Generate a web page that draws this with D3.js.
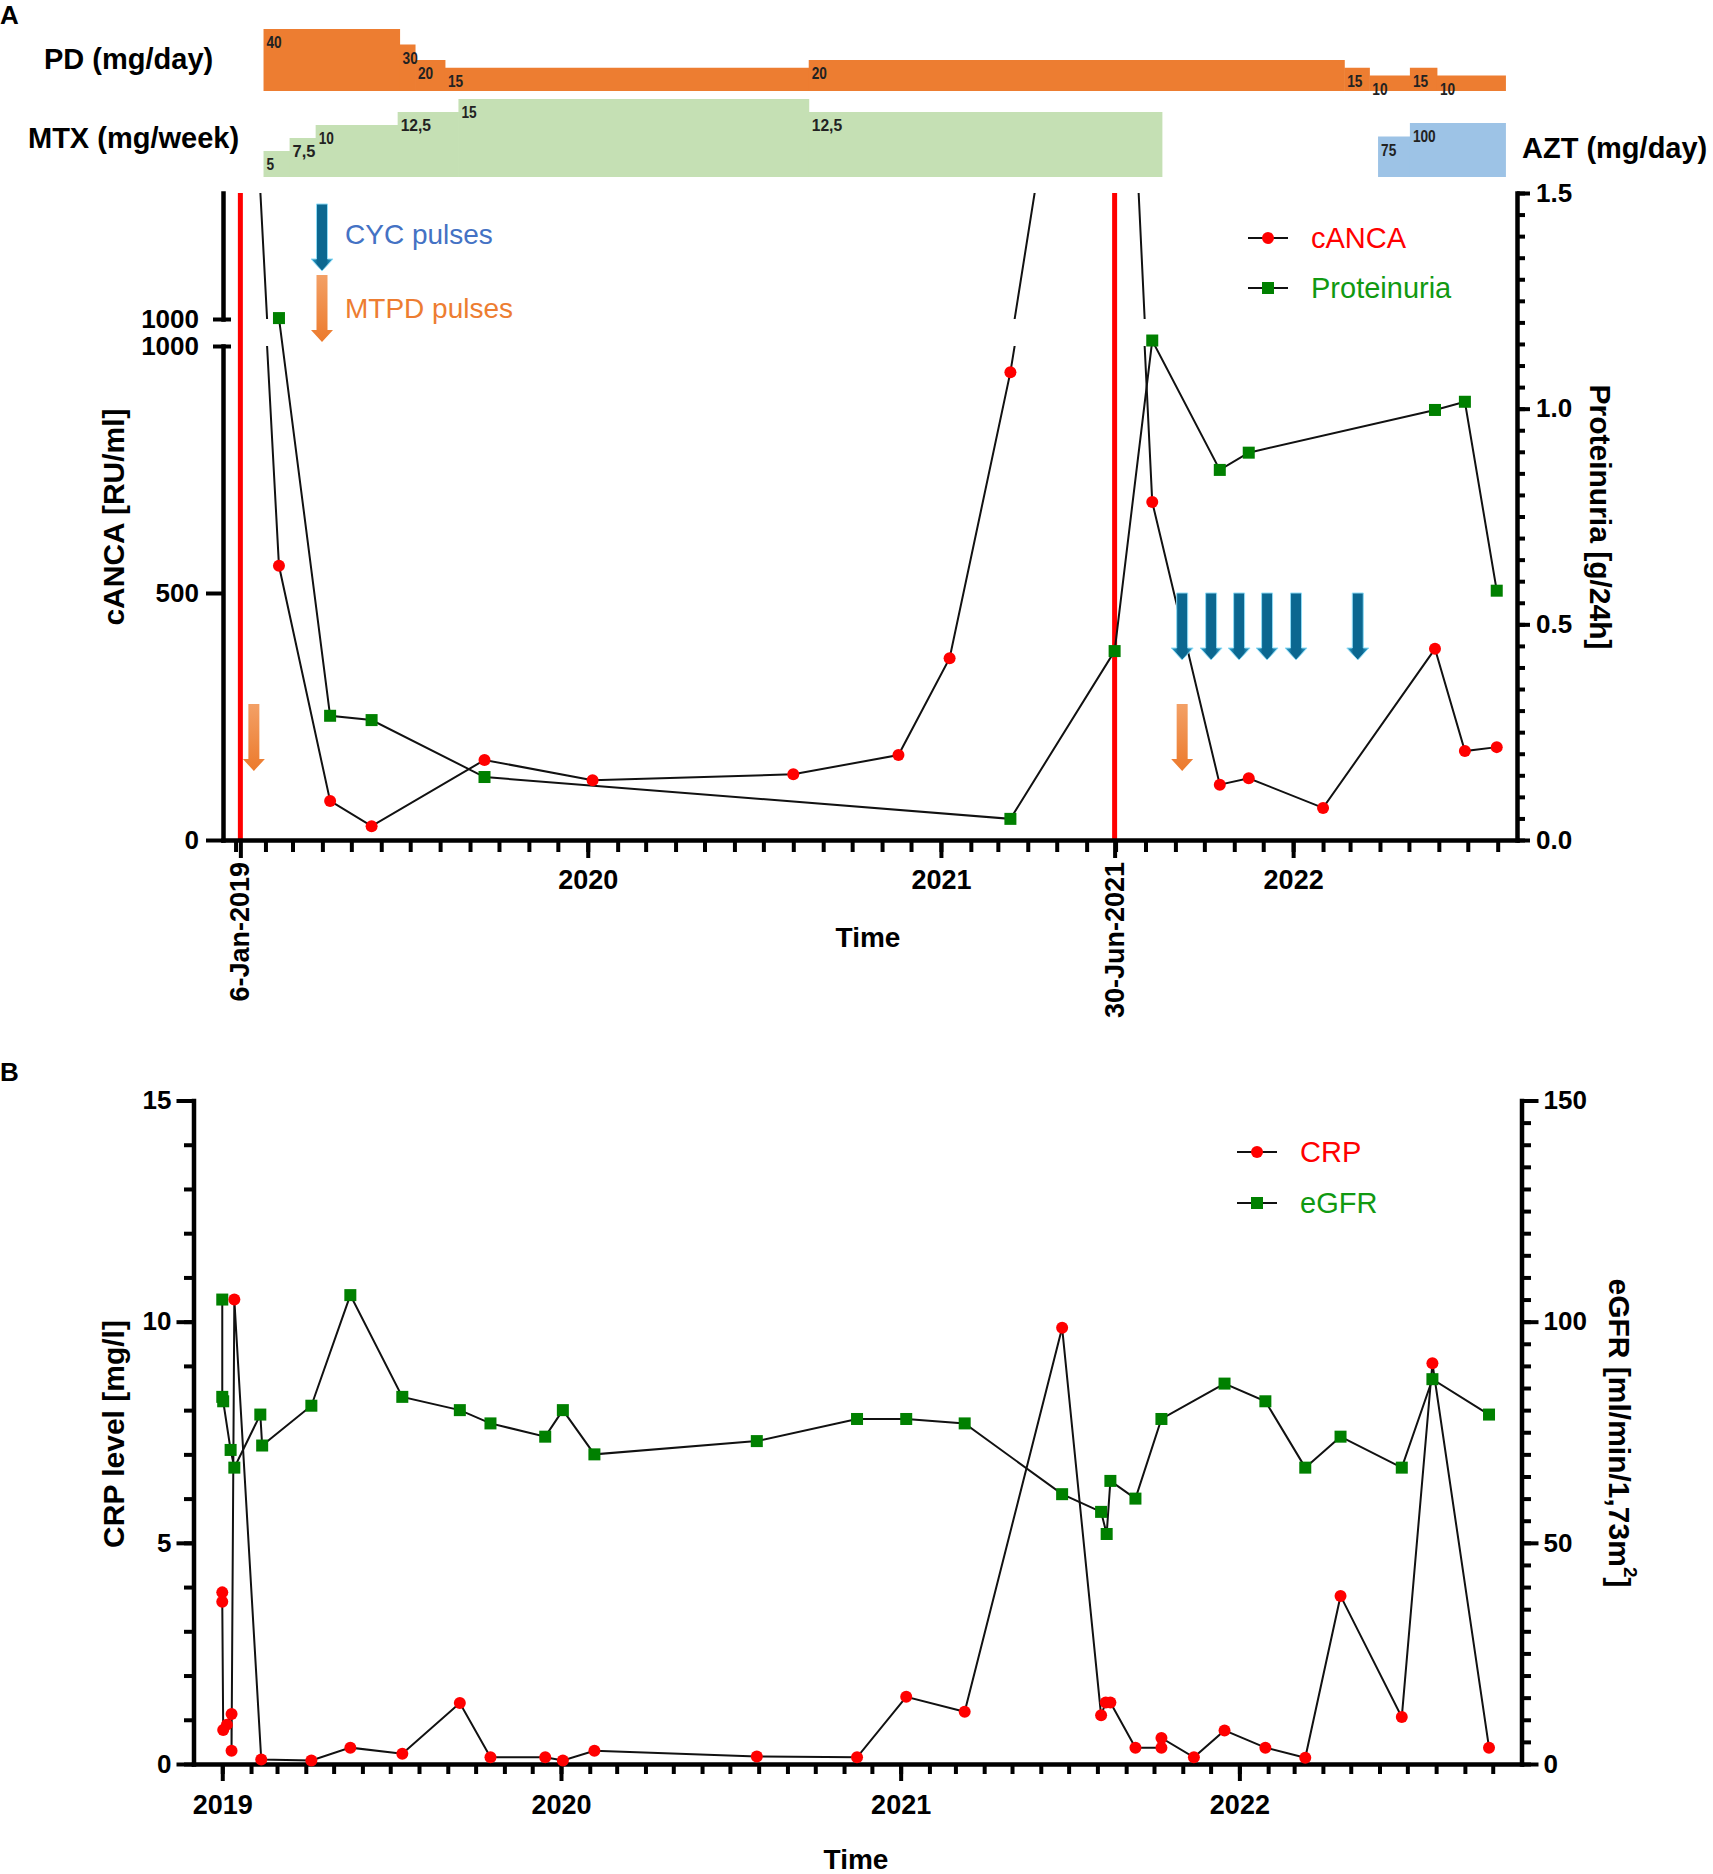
<!DOCTYPE html>
<html>
<head>
<meta charset="utf-8">
<title>cANCA, proteinuria, CRP and eGFR over time</title>
<script src="https://cdn.jsdelivr.net/npm/d3@7"></script>
<style>
body { margin: 0; background: #fff; }
svg { display: block; font-family: "Liberation Sans", Arial, sans-serif; }
</style>
</head>
<body>
<script>
// ---------- data: treatment bars ----------
const pdStarts = ["2019-01-30", "2019-06-20", "2019-07-06", "2019-08-06", "2020-08-17", "2022-02-23", "2022-03-21", "2022-05-02", "2022-05-30"];
const pdDoses = [40, 30, 20, 15, 20, 15, 10, 15, 10];
const pdEnd = "2022-08-09";

const mtxStarts = ["2019-01-30", "2019-02-26", "2019-03-25", "2019-06-18", "2019-08-20", "2020-08-17"];
const mtxDoses = [5, 7.5, 10, 12.5, 15, 12.5];
const mtxEnd = "2021-08-18";

const aztStarts = ["2022-03-30", "2022-05-02"];
const aztDoses = [75, 100];
const aztEnd = "2022-08-09";

// ---------- data: panel A ----------
const cancaDates = ["2019-01-06", "2019-02-15", "2019-04-09", "2019-05-22", "2019-09-16", "2020-01-06", "2020-08-01", "2020-11-18",
  "2021-01-10", "2021-03-14", "2021-06-30", "2021-08-08", "2021-10-17", "2021-11-16", "2022-02-01", "2022-05-28", "2022-06-28", "2022-07-31"];
const cancaValues = [2000, 555, 79, 28, 162, 121, 133, 172, 368, 947, 2250, 684, 112, 125, 65, 387, 180, 188];

const protDates = ["2019-02-15", "2019-04-09", "2019-05-22", "2019-09-16", "2021-03-14", "2021-06-30", "2021-08-08", "2021-10-17",
  "2021-11-16", "2022-05-28", "2022-06-28", "2022-07-31"];
const protValues = [1.21, 0.288, 0.278, 0.146, 0.049, 0.438, 1.158, 0.858, 0.898, 0.997, 1.016, 0.578];

const cycPulseDates = ["2021-09-08", "2021-10-08", "2021-11-06", "2021-12-05", "2022-01-04", "2022-03-09"];
const mtpdPulseDates = ["2019-01-20", "2021-09-08"];

const eventDates = ["2019-01-06", "2021-06-30"];
const eventLabels = ["6-Jan-2019", "30-Jun-2021"];

const yearTicksA = [2020, 2021, 2022];
const leftTicksA = [0, 500, 1000];
const rightTicksA = [0, 0.5, 1.0, 1.5];

// ---------- data: panel B ----------
const crpDates = ["2019-01-01", "2019-01-01", "2019-01-02", "2019-01-06", "2019-01-11", "2019-01-11", "2019-01-14", "2019-02-12",
  "2019-04-07", "2019-05-19", "2019-07-14", "2019-09-14", "2019-10-17", "2019-12-15", "2020-01-03", "2020-02-06",
  "2020-07-30", "2020-11-15", "2021-01-07", "2021-03-11", "2021-06-24", "2021-08-05", "2021-08-10", "2021-08-15",
  "2021-09-11", "2021-10-09", "2021-10-09", "2021-11-13", "2021-12-16", "2022-01-29", "2022-03-13", "2022-04-20",
  "2022-06-25", "2022-07-28", "2022-09-27"];
const crpValues = [3.88, 3.67, 0.77, 0.89, 1.13, 0.30, 10.5, 0.10, 0.08, 0.37, 0.23, 1.38, 0.15, 0.15, 0.08, 0.30,
  0.17, 0.15, 1.52, 1.18, 9.86, 1.10, 1.39, 1.39, 0.37, 0.37, 0.59, 0.15, 0.76, 0.37, 0.14, 3.80, 1.06, 9.06, 0.37];

const egfrDates = ["2019-01-01", "2019-01-01", "2019-01-02", "2019-01-10", "2019-01-14", "2019-02-11", "2019-02-13", "2019-04-07",
  "2019-05-19", "2019-07-14", "2019-09-14", "2019-10-17", "2019-12-15", "2020-01-03", "2020-02-06", "2020-07-30",
  "2020-11-15", "2021-01-07", "2021-03-11", "2021-06-24", "2021-08-05", "2021-08-11", "2021-08-15", "2021-09-11",
  "2021-10-09", "2021-12-16", "2022-01-29", "2022-03-13", "2022-04-20", "2022-06-25", "2022-07-28", "2022-09-27"];
const egfrValues = [105, 83, 82, 71, 67, 79, 72, 81, 106, 83, 80, 77, 74, 80, 70, 73, 78, 78, 77, 61, 57, 52, 64, 60,
  78, 86, 82, 67, 74, 67, 87, 79];

const yearTicksB = [2019, 2020, 2021, 2022];
const leftTicksB = [0, 5, 10, 15];
const rightTicksB = [0, 50, 100, 150];

// ---------- setup ----------
const parse = d3.timeParse("%Y-%m-%d");
const W = 1713, H = 1874;
const RED = "#ff0000", GREEN = "#008000", TEXTGREEN = "#119911";
const svg = d3.select("body").append("svg").attr("width", W).attr("height", H);
const defs = svg.append("defs");

const cycGrad = defs.append("linearGradient").attr("id", "cycFill")
  .attr("x1", 0).attr("x2", 1).attr("y1", 0).attr("y2", 0);
cycGrad.selectAll("stop").data([["0%", "#38aedc"], ["30%", "#0b6790"], ["70%", "#0b6790"], ["100%", "#38aedc"]])
  .join("stop").attr("offset", d => d[0]).attr("stop-color", d => d[1]);
const orGrad = defs.append("linearGradient").attr("id", "mtpdFill")
  .attr("x1", 0).attr("x2", 0).attr("y1", 0).attr("y2", 1);
orGrad.selectAll("stop").data([["0%", "#f3a066"], ["100%", "#ec7a2c"]])
  .join("stop").attr("offset", d => d[0]).attr("stop-color", d => d[1]);

function styleAxis(g, fontSize) {
  g.attr("font-family", null).attr("font-size", null);
  g.select(".domain").attr("stroke-width", 4.5).attr("stroke-linecap", "square");
  g.selectAll(".tick line").attr("stroke-width", 4);
  g.selectAll(".tick text").attr("font-size", fontSize).attr("font-weight", "bold").attr("fill", "#000");
}
function noDomain(g) { g.select(".domain").remove(); }

function arrowPath(cx, top) {
  return `M${cx - 5.5},${top}H${cx + 5.5}V${top + 55}H${cx + 11}L${cx},${top + 67}L${cx - 11},${top + 55}H${cx - 5.5}Z`;
}

// ================= PANEL A =================
const xA = d3.scaleTime().domain([parse("2018-12-19"), parse("2022-08-21")]).range([223, 1517]);
const yLow = d3.scaleLinear().domain([0, 1000]).range([840, 346]);
const yHigh = d3.scaleLinear().domain([1000, 1250]).range([319, 193]);
const yProt = d3.scaleLinear().domain([0, 1.5]).range([840, 193]);

svg.append("text").attr("x", 0).attr("y", 24).attr("font-size", 26).attr("font-weight", "bold").text("A");

// treatment bars
const pdH = d3.scaleLinear().domain([0, 40]).range([0, 62]);
const mtxH = d3.scaleLinear().domain([0, 15]).range([0, 78]);
const aztH = d3.scaleLinear().domain([0, 100]).range([0, 54]);

function drawBars(starts, doses, end, hScale, bottom, color) {
  const segs = starts.map((s, i) => ({
    x0: xA(parse(s)), x1: xA(parse(i + 1 < starts.length ? starts[i + 1] : end)),
    dose: doses[i]
  }));
  const g = svg.append("g");
  g.selectAll("rect").data(segs).join("rect")
    .attr("x", d => d.x0).attr("width", d => d.x1 - d.x0 + 0.5)
    .attr("y", d => bottom - hScale(d.dose)).attr("height", d => hScale(d.dose))
    .attr("fill", color);
  g.selectAll("text").data(segs).join("text")
    .attr("x", d => d.x0 + 3).attr("y", d => bottom - hScale(d.dose) + 19)
    .attr("font-size", 17).attr("font-weight", "bold").attr("fill", "#222")
    .attr("textLength", d => String(d.dose).length * 7.6).attr("lengthAdjust", "spacingAndGlyphs")
    .text(d => String(d.dose).replace(".", ","));
}
drawBars(pdStarts, pdDoses, pdEnd, pdH, 91, "#ed7d31");
drawBars(mtxStarts, mtxDoses, mtxEnd, mtxH, 177, "#c5e0b4");
drawBars(aztStarts, aztDoses, aztEnd, aztH, 177, "#9dc3e6");

svg.append("text").attr("x", 44).attr("y", 69).attr("font-size", 29).attr("font-weight", "bold").text("PD (mg/day)");
svg.append("text").attr("x", 28).attr("y", 148).attr("font-size", 29).attr("font-weight", "bold").text("MTX (mg/week)");
svg.append("text").attr("x", 1522).attr("y", 158).attr("font-size", 29).attr("font-weight", "bold").text("AZT (mg/day)");

// event lines
svg.append("g").selectAll("line").data(eventDates).join("line")
  .attr("x1", d => xA(parse(d))).attr("x2", d => xA(parse(d)))
  .attr("y1", yProt(1.5)).attr("y2", yProt(0))
  .attr("stroke", RED).attr("stroke-width", 5);

// x axis A
const monthsA = d3.timeMonth.range(parse("2019-01-01"), xA.domain()[1]);
const gxA = svg.append("g").attr("transform", "translate(0,840)");
gxA.append("g").call(d3.axisBottom(xA).tickValues(monthsA).tickSize(12).tickSizeOuter(0).tickFormat(""))
  .call(g => styleAxis(g, 26));
gxA.append("g").call(d3.axisBottom(xA).tickValues(yearTicksA.map(y => new Date(y, 0, 1)))
  .tickSize(18).tickSizeOuter(0).tickPadding(12).tickFormat(d3.timeFormat("%Y")))
  .call(g => styleAxis(g, 27)).call(noDomain);
gxA.append("g").call(d3.axisBottom(xA).tickValues(eventDates.map(parse)).tickSize(18).tickSizeOuter(0).tickFormat(""))
  .call(g => styleAxis(g, 27)).call(noDomain);
gxA.selectAll(null).data(eventDates).join("text")
  .attr("transform", d => `translate(${xA(parse(d))},22) rotate(-90)`)
  .attr("text-anchor", "end").attr("dominant-baseline", "central")
  .attr("font-size", 27).attr("font-weight", "bold")
  .text((d, i) => eventLabels[i]);
svg.append("text").attr("x", 868).attr("y", 947).attr("text-anchor", "middle")
  .attr("font-size", 28).attr("font-weight", "bold").text("Time");

// left broken axis A
const gLow = svg.append("g").attr("transform", "translate(223,0)")
  .call(d3.axisLeft(yLow).tickValues(leftTicksA).tickSize(17).tickSizeOuter(0).tickPadding(7).tickFormat(d3.format("d")))
  .call(g => styleAxis(g, 26));
gLow.selectAll(".tick").filter(d => d === 1000).select("line").attr("x1", 8).attr("x2", -10);
const gHigh = svg.append("g").attr("transform", "translate(223,0)")
  .call(d3.axisLeft(yHigh).tickValues([1000]).tickSize(17).tickSizeOuter(0).tickPadding(7).tickFormat(d3.format("d")))
  .call(g => styleAxis(g, 26));
gHigh.selectAll(".tick line").attr("x1", 8).attr("x2", -10);
svg.append("text").attr("transform", "translate(113,517) rotate(-90)")
  .attr("text-anchor", "middle").attr("dominant-baseline", "central")
  .attr("font-size", 30).attr("font-weight", "bold").text("cANCA [RU/ml]");

// right axis A
svg.append("g").attr("transform", "translate(1517,0)")
  .call(d3.axisRight(yProt).tickValues(d3.range(0, 1.5001, 0.05)).tickSize(8).tickSizeOuter(0).tickFormat(""))
  .call(g => styleAxis(g, 26));
svg.append("g").attr("transform", "translate(1517,0)")
  .call(d3.axisRight(yProt).tickValues(rightTicksA).tickSize(13).tickSizeOuter(0).tickPadding(6).tickFormat(d3.format(".1f")))
  .call(g => styleAxis(g, 26)).call(noDomain);
svg.append("text").attr("transform", "translate(1600,517) rotate(90)")
  .attr("text-anchor", "middle").attr("dominant-baseline", "central")
  .attr("font-size", 30).attr("font-weight", "bold").text("Proteinuria [g/24h]");

// clip regions for broken cANCA axis
defs.append("clipPath").attr("id", "clipLow").append("rect")
  .attr("x", xA.range()[0]).attr("width", xA.range()[1] - xA.range()[0])
  .attr("y", yLow(1000)).attr("height", yLow(0) - yLow(1000) + 20);
defs.append("clipPath").attr("id", "clipHigh").append("rect")
  .attr("x", xA.range()[0]).attr("width", xA.range()[1] - xA.range()[0])
  .attr("y", yHigh(1250)).attr("height", yHigh(1000) - yHigh(1250));

const canca = cancaDates.map((d, i) => ({ date: parse(d), v: cancaValues[i] }));
const prot = protDates.map((d, i) => ({ date: parse(d), v: protValues[i] }));

const lineLow = d3.line().x(d => xA(d.date)).y(d => yLow(d.v));
const lineHigh = d3.line().x(d => xA(d.date)).y(d => yHigh(d.v));
const lineProt = d3.line().x(d => xA(d.date)).y(d => yProt(d.v));

svg.append("path").datum(canca).attr("d", lineLow).attr("clip-path", "url(#clipLow)")
  .attr("fill", "none").attr("stroke", "#111").attr("stroke-width", 2);
svg.append("path").datum(canca).attr("d", lineHigh).attr("clip-path", "url(#clipHigh)")
  .attr("fill", "none").attr("stroke", "#111").attr("stroke-width", 2);
svg.append("path").datum(prot).attr("d", lineProt)
  .attr("fill", "none").attr("stroke", "#111").attr("stroke-width", 2);

svg.append("g").selectAll("rect").data(prot).join("rect")
  .attr("x", d => xA(d.date) - 6).attr("y", d => yProt(d.v) - 6)
  .attr("width", 12).attr("height", 12).attr("fill", GREEN);
svg.append("g").selectAll("circle").data(canca.filter(d => d.v <= 1000)).join("circle")
  .attr("cx", d => xA(d.date)).attr("cy", d => yLow(d.v)).attr("r", 6).attr("fill", RED);

// pulse arrows
svg.append("g").selectAll("path").data(cycPulseDates).join("path")
  .attr("d", d => arrowPath(xA(parse(d)), 593))
  .attr("fill", "url(#cycFill)").attr("stroke", "#8fdcf6").attr("stroke-width", 1);
svg.append("g").selectAll("path").data(mtpdPulseDates).join("path")
  .attr("d", d => arrowPath(xA(parse(d)), 704))
  .attr("fill", "url(#mtpdFill)");

// pulse legend
svg.append("path").attr("d", arrowPath(322, 204)).attr("fill", "url(#cycFill)")
  .attr("stroke", "#8fdcf6").attr("stroke-width", 1);
svg.append("path").attr("d", arrowPath(322, 275)).attr("fill", "url(#mtpdFill)");
svg.append("text").attr("x", 345).attr("y", 234).attr("dominant-baseline", "central")
  .attr("font-size", 28).attr("fill", "#4472c4").text("CYC pulses");
svg.append("text").attr("x", 345).attr("y", 308).attr("dominant-baseline", "central")
  .attr("font-size", 28).attr("fill", "#ed7d31").text("MTPD pulses");

// series legend A
function legend(x0, y0, gap, names, colors) {
  const g = svg.append("g");
  names.forEach((n, i) => {
    const y = y0 + i * gap;
    g.append("line").attr("x1", x0).attr("x2", x0 + 40).attr("y1", y).attr("y2", y)
      .attr("stroke", "#111").attr("stroke-width", 2);
    if (i === 0) g.append("circle").attr("cx", x0 + 20).attr("cy", y).attr("r", 6).attr("fill", RED);
    else g.append("rect").attr("x", x0 + 14).attr("y", y - 6).attr("width", 12).attr("height", 12).attr("fill", GREEN);
    g.append("text").attr("x", x0 + 63).attr("y", y).attr("dominant-baseline", "central")
      .attr("font-size", 29).attr("fill", colors[i]).text(n);
  });
}
legend(1248, 238, 50, ["cANCA", "Proteinuria"], [RED, TEXTGREEN]);

// ================= PANEL B =================
const xB = d3.scaleTime().domain([parse("2018-12-01"), parse("2022-11-01")]).range([193.5, 1521.5]);
const yCrp = d3.scaleLinear().domain([0, 15]).range([1764, 1100.5]);
const yGfr = d3.scaleLinear().domain([0, 150]).range([1764, 1100.5]);

svg.append("text").attr("x", 0).attr("y", 1081).attr("font-size", 26).attr("font-weight", "bold").text("B");

const monthsB = d3.timeMonth.range(parse("2019-01-01"), xB.domain()[1]);
const gxB = svg.append("g").attr("transform", "translate(0,1764)");
gxB.append("g").call(d3.axisBottom(xB).tickValues(monthsB).tickSize(10).tickSizeOuter(0).tickFormat(""))
  .call(g => styleAxis(g, 26));
gxB.append("g").call(d3.axisBottom(xB).tickValues(yearTicksB.map(y => new Date(y, 0, 1)))
  .tickSize(17).tickSizeOuter(0).tickPadding(14).tickFormat(d3.timeFormat("%Y")))
  .call(g => styleAxis(g, 27)).call(noDomain);
svg.append("text").attr("x", 856).attr("y", 1869).attr("text-anchor", "middle")
  .attr("font-size", 28).attr("font-weight", "bold").text("Time");

svg.append("g").attr("transform", "translate(193.5,0)")
  .call(d3.axisLeft(yCrp).tickValues(d3.range(0, 16, 1)).tickSize(9.5).tickSizeOuter(0).tickFormat(""))
  .call(g => styleAxis(g, 26));
svg.append("g").attr("transform", "translate(193.5,0)")
  .call(d3.axisLeft(yCrp).tickValues(leftTicksB).tickSize(17).tickSizeOuter(0).tickPadding(5))
  .call(g => styleAxis(g, 26)).call(noDomain);
svg.append("text").attr("transform", "translate(113,1434) rotate(-90)")
  .attr("text-anchor", "middle").attr("dominant-baseline", "central")
  .attr("font-size", 30).attr("font-weight", "bold").text("CRP level [mg/l]");

svg.append("g").attr("transform", "translate(1521.5,0)")
  .call(d3.axisRight(yGfr).tickValues(d3.range(0, 151, 5)).tickSize(9.5).tickSizeOuter(0).tickFormat(""))
  .call(g => styleAxis(g, 26));
svg.append("g").attr("transform", "translate(1521.5,0)")
  .call(d3.axisRight(yGfr).tickValues(rightTicksB).tickSize(17).tickSizeOuter(0).tickPadding(5))
  .call(g => styleAxis(g, 26)).call(noDomain);
const eg = svg.append("text").attr("transform", "translate(1620,1433) rotate(90)")
  .attr("text-anchor", "middle").attr("dominant-baseline", "central")
  .attr("font-size", 30).attr("font-weight", "bold");
eg.append("tspan").text("eGFR [ml/min/1,73m");
eg.append("tspan").attr("font-size", 19).attr("dy", -11).text("2");
eg.append("tspan").attr("dy", 11).text("]");

const crp = crpDates.map((d, i) => ({ date: parse(d), v: crpValues[i] }));
const egfr = egfrDates.map((d, i) => ({ date: parse(d), v: egfrValues[i] }));

svg.append("path").datum(egfr).attr("d", d3.line().x(d => xB(d.date)).y(d => yGfr(d.v)))
  .attr("fill", "none").attr("stroke", "#111").attr("stroke-width", 2);
svg.append("path").datum(crp).attr("d", d3.line().x(d => xB(d.date)).y(d => yCrp(d.v)))
  .attr("fill", "none").attr("stroke", "#111").attr("stroke-width", 2);
svg.append("g").selectAll("rect").data(egfr).join("rect")
  .attr("x", d => xB(d.date) - 6).attr("y", d => yGfr(d.v) - 6)
  .attr("width", 12).attr("height", 12).attr("fill", GREEN);
svg.append("g").selectAll("circle").data(crp).join("circle")
  .attr("cx", d => xB(d.date)).attr("cy", d => yCrp(d.v)).attr("r", 6).attr("fill", RED);

legend(1237, 1152, 51, ["CRP", "eGFR"], [RED, TEXTGREEN]);
</script>
</body>
</html>
